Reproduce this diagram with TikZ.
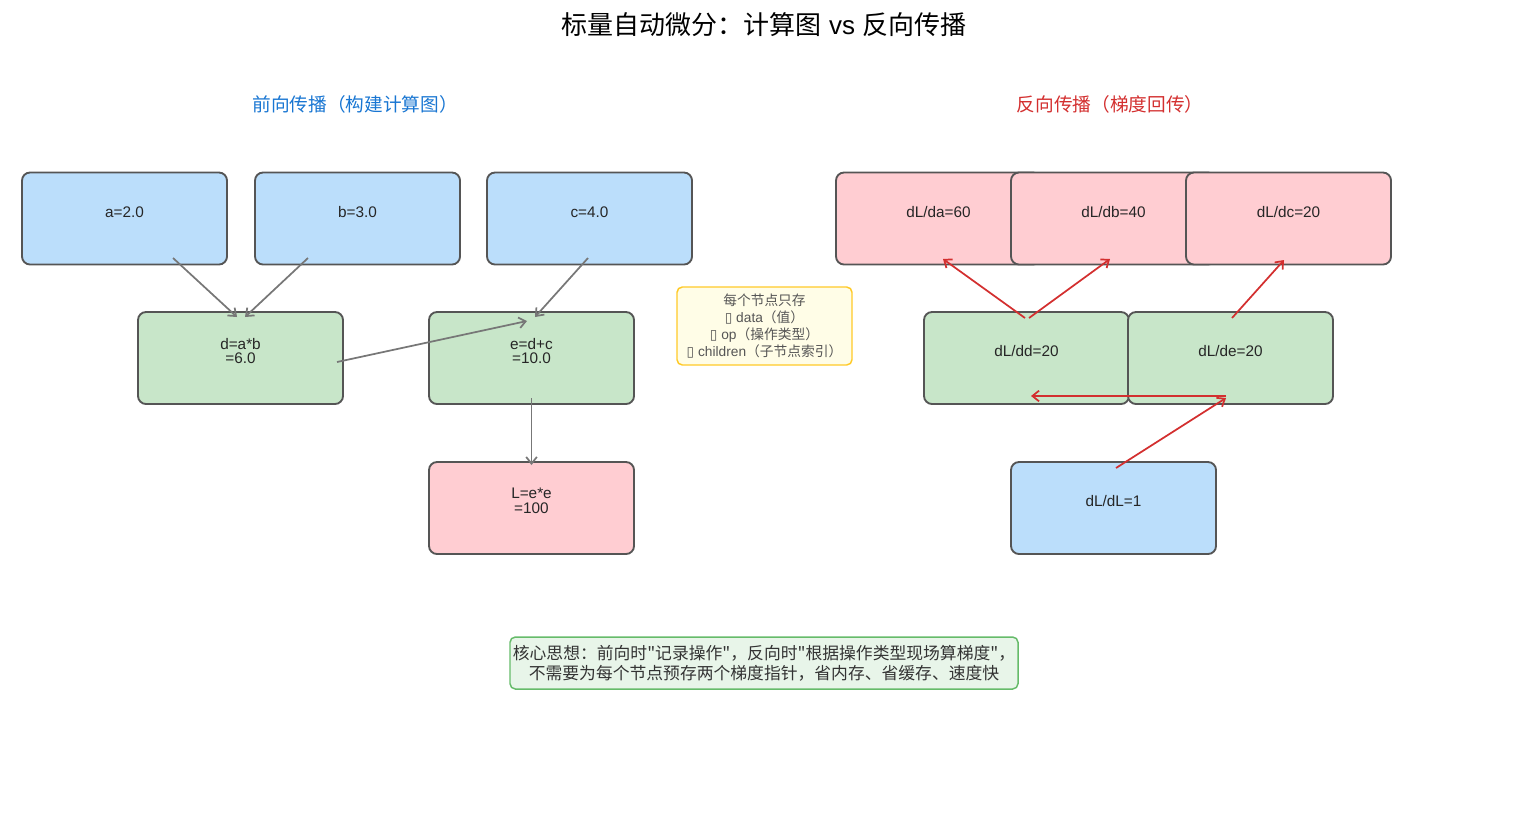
\documentclass[tikz,border=0pt]{standalone}
\usepackage{fontspec}
\setmainfont{Liberation Sans}
\newfontfamily\cjk{Noto Sans CJK SC}
\newfontfamily\symb{DejaVu Sans}
\usetikzlibrary{arrows.meta,calc}
\definecolor{bluefill}{HTML}{BBDEFB}
\definecolor{pinkfill}{HTML}{FFCDD2}
\definecolor{greenfill}{HTML}{C8E6C9}
\definecolor{boxline}{HTML}{555555}
\definecolor{notefill}{HTML}{FFFDE7}
\definecolor{noteline}{HTML}{FFCA28}
\definecolor{corefill}{HTML}{E8F5E9}
\definecolor{coreline}{HTML}{66BB6A}
\definecolor{grayarrow}{HTML}{777777}
\definecolor{redarrow}{HTML}{D32F2F}
\definecolor{titleblue}{HTML}{1976D2}
\definecolor{textgray}{HTML}{555555}
\begin{document}
\begin{tikzpicture}[x=0.75pt,y=-0.75pt,
  box/.style={draw=boxline,line width=1.4pt,rounded corners=6pt,minimum width=153.75pt,minimum height=69pt,inner sep=0pt},
  bluebox/.style={box,fill=bluefill},
  pinkbox/.style={box,fill=pinkfill},
  greenbox/.style={box,fill=greenfill},
  lbl/.style={font=\fontsize{11.5}{11}\selectfont,text=black!85,align=center,inner sep=0pt},
  garrow/.style={draw=grayarrow,line width=1.3pt,-{Straight Barb[length=5pt,width=8pt]}},
  rarrow/.style={draw=redarrow,line width=1.3pt,-{Straight Barb[length=5pt,width=8pt]}}]
\useasboundingbox (0,0) rectangle (1533,819);

% title
\node (title) at (764,25) {\fontsize{19.5}{20}\selectfont{\cjk 标量自动微分：计算图} vs {\cjk 反向传播}};
\node[text=titleblue] (ltitle) at (355,104) {\cjk\fontsize{14}{14}\selectfont 前向传播（构建计算图）};
\node[text=redarrow] (rtitle) at (1110,104) {\cjk\fontsize{14}{14}\selectfont 反向传播（梯度回传）};

% forward boxes
\node[bluebox] (a) at (124.5,218.5) {};
\node[bluebox] (b) at (357.5,218.5) {};
\node[bluebox] (c) at (589.5,218.5) {};
\node[greenbox] (d) at (240.5,358) {};
\node[greenbox] (e) at (531.5,358) {};
\node[pinkbox] (L) at (531.5,508) {};
\node[lbl] (at) at ($(a.center)+(0,-6.5)$) {a=2.0};
\node[lbl] (bt) at ($(b.center)+(0,-6.5)$) {b=3.0};
\node[lbl] (ct) at ($(c.center)+(0,-6.5)$) {c=4.0};
\node[lbl] (dt) at ($(d.center)+(0,-7)$) {d=a*b\\=6.0};
\node[lbl] (et) at ($(e.center)+(0,-7)$) {e=d+c\\=10.0};
\node[lbl] (Lt) at ($(L.center)+(0,-7)$) {L=e*e\\=100};

% backward boxes
\node[pinkbox] (da) at (938.5,218.5) {};
\node[pinkbox] (db) at (1113.5,218.5) {};
\node[pinkbox] (dc) at (1288.5,218.5) {};
\node[greenbox] (dd) at (1026.5,358) {};
\node[greenbox] (de) at (1230.5,358) {};
\node[bluebox] (dL) at (1113.5,508) {};
\node[lbl] (dat) at ($(da.center)+(0,-6.5)$) {dL/da=60};
\node[lbl] (dbt) at ($(db.center)+(0,-6.5)$) {dL/db=40};
\node[lbl] (dct) at ($(dc.center)+(0,-6.5)$) {dL/dc=20};
\node[lbl] (ddt) at ($(dd.center)+(0,-7)$) {dL/dd=20};
\node[lbl] (det) at ($(de.center)+(0,-7)$) {dL/de=20};
\node[lbl] (dLt) at ($(dL.center)+(0,-7)$) {dL/dL=1};

% note box
\node[draw=noteline,fill=notefill,line width=1.1pt,rounded corners=4pt,minimum width=131.25pt,minimum height=58.5pt,inner sep=0pt,
      align=center,text=textgray,font=\fontsize{10.3}{12.6}\selectfont] (note) at (764.5,326)
  {{\cjk 每个节点只存}\\{\symb ▯} data{\cjk（值）}\\{\symb ▯} op{\cjk（操作类型）}\\{\symb ▯} children{\cjk（子节点索引）}};

% core idea box
\node[draw=coreline,fill=corefill,line width=1.1pt,rounded corners=4pt,minimum width=381pt,minimum height=39pt,inner sep=0pt,
      align=center,text=black!80,font=\cjk\fontsize{12.6}{15}\selectfont] (core) at (764,663)
  {核心思想：前向时"记录操作"，反向时"根据操作类型现场算梯度"，\\不需要为每个节点预存两个梯度指针，省内存、省缓存、速度快};

% forward arrows
\draw[garrow] ($(a.center)+(48.5,39.5)$) -- ($(d.center)+(-3.5,-41)$);
\draw[garrow] ($(b.center)+(-49.5,39.5)$) -- ($(d.center)+(4.5,-41)$);
\draw[garrow] ($(c.center)+(-1.5,39.5)$) -- ($(e.center)+(3.5,-41)$);
\draw[garrow] ($(d.center)+(96.5,4)$) -- ($(e.center)+(-4.5,-37)$);
\draw[garrow] ($(e.center)+(0,40)$) -- ($(L.center)+(0,-43)$);

% backward arrows
\draw[rarrow] ($(dd.center)+(-1.5,-40)$) -- ($(da.center)+(4.5,40.5)$);
\draw[rarrow] ($(dd.center)+(2.5,-40)$) -- ($(db.center)+(-3.5,40.5)$);
\draw[rarrow] ($(de.center)+(1.5,-40)$) -- ($(dc.center)+(-4.5,41.5)$);
\draw[rarrow] ($(de.center)+(-4.5,38)$) -- ($(dd.center)+(4.5,38)$);
\draw[rarrow] ($(dL.center)+(2.5,-40)$) -- ($(de.center)+(-4.5,40)$);
\end{tikzpicture}
\end{document}
